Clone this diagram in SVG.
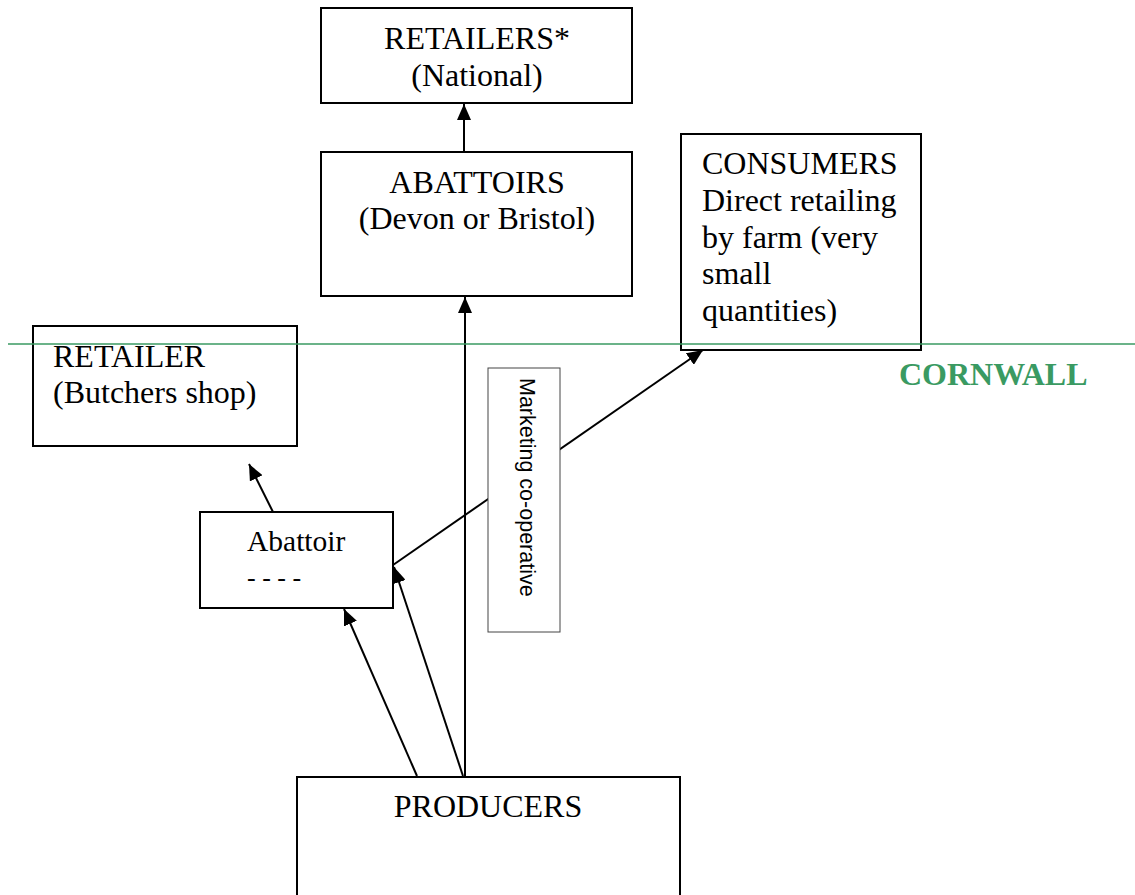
<svg xmlns="http://www.w3.org/2000/svg" width="1135" height="895" viewBox="0 0 1135 895">
  <style>
    .box { fill: #fff; stroke: #000; stroke-width: 2; }
    .thin { fill: #fff; stroke: #444; stroke-width: 1; }
    .lbl { font-family: "Liberation Serif", "Times New Roman", serif; font-size: 32px; fill: #000; }
    .small { font-size: 29.5px; }
    .dash { font-size: 26px; }
    .sans { font-family: "Liberation Sans", Arial, sans-serif; font-size: 21.5px; fill: #000; }
    .edge { fill: none; stroke: #000; stroke-width: 2; marker-end: url(#arrow); }
    .county { font-family: "Liberation Serif", "Times New Roman", serif; font-size: 32px; font-weight: bold; fill: #3a9a62; }
  </style>
  <defs>
    <marker id="arrow" markerUnits="userSpaceOnUse" markerWidth="18" markerHeight="14" refX="16" refY="7" orient="auto">
      <path d="M0,0 L16,7 L0,14 Z" fill="#000"/>
    </marker>
  </defs>
  <rect width="1135" height="895" fill="#fff"/>

  <!-- connectors -->
  <g id="connectors">
    <line class="edge" x1="464" y1="152" x2="464" y2="104"/>
    <line class="edge" x1="465" y1="776" x2="465" y2="297"/>
    <line class="edge" x1="273" y1="512" x2="249" y2="464"/>
    <line class="edge" x1="417" y1="776" x2="344" y2="609"/>
    <line class="edge" x1="463" y1="776" x2="394" y2="567"/>
    <line class="edge" x1="393" y1="565" x2="703" y2="350"/>
  </g>

  <g id="retailers-national">
    <rect class="box" x="321" y="8" width="311" height="95"/>
    <text class="lbl" x="477" y="49" text-anchor="middle">RETAILERS*</text>
    <text class="lbl" x="477" y="86" text-anchor="middle">(National)</text>
  </g>

  <g id="abattoirs-devon">
    <rect class="box" x="321" y="152" width="311" height="144"/>
    <text class="lbl" x="477" y="193" text-anchor="middle">ABATTOIRS</text>
    <text class="lbl" x="477" y="229" text-anchor="middle">(Devon or Bristol)</text>
  </g>

  <g id="consumers">
    <rect class="box" x="681" y="134" width="240" height="216"/>
    <text class="lbl" x="702" y="174">CONSUMERS</text>
    <text class="lbl" x="702" y="211">Direct retailing</text>
    <text class="lbl" x="702" y="248">by farm (very</text>
    <text class="lbl" x="702" y="284">small</text>
    <text class="lbl" x="702" y="321">quantities)</text>
  </g>

  <g id="retailer-butcher">
    <rect class="box" x="33" y="326" width="264" height="120"/>
    <text class="lbl" x="53" y="367">RETAILER</text>
    <text class="lbl" x="53" y="403">(Butchers shop)</text>
  </g>

  <g id="abattoir-local">
    <rect class="box" x="200" y="512" width="193" height="96"/>
    <text class="lbl small" x="247" y="551">Abattoir</text>
    <text class="lbl dash" x="247" y="586">- - - -</text>
  </g>

  <g id="marketing-coop">
    <rect class="thin" x="488" y="368" width="72" height="264"/>
    <text class="sans" transform="translate(520,378) rotate(90)">Marketing co-operative</text>
  </g>

  <g id="producers">
    <rect class="box" x="297" y="777" width="383" height="130"/>
    <text class="lbl" x="488" y="817" text-anchor="middle">PRODUCERS</text>
  </g>

  <!-- county boundary -->
  <g id="cornwall-boundary">
    <line x1="8" y1="344" x2="1135" y2="344" stroke="#3a9a62" stroke-width="1.5"/>
    <text class="county" x="899" y="385">CORNWALL</text>
  </g>
</svg>
